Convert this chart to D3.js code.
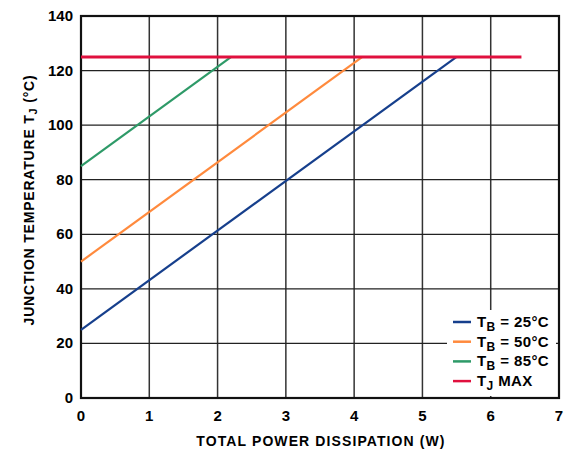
<!DOCTYPE html>
<html>
<head>
<meta charset="utf-8">
<script src="https://cdnjs.cloudflare.com/ajax/libs/d3/7.8.5/d3.min.js"></script>
<style>
    body { margin: 0; background: #fff; font-family: "Liberation Sans", Arial, Helvetica, sans-serif; }
    svg text { font-weight: bold; fill: #000; }
</style>
</head>
<body>
<svg width="579" height="454"></svg>
<script>
    // series: [power W, junction temp °C]
    var tb25 = [[0, 25], [5.5, 125]];
    var tb50 = [[0, 50], [4.12, 125]];
    var tb85 = [[0, 85], [2.2, 125]];
    var tjMax = [[0, 125], [6.45, 125]];

    var xTicks = [0, 1, 2, 3, 4, 5, 6, 7];
    var yTicks = [0, 20, 40, 60, 80, 100, 120, 140];
    var legendNames = ["25°C", "50°C", "85°C", "MAX"];

    var svg = d3.select("svg");
    var mLeft = 81, mRight = 559, mTop = 16, mBottom = 398;

    var x = d3.scaleLinear().domain([0, 7]).range([mLeft, mRight]);
    var y = d3.scaleLinear().domain([0, 140]).range([mBottom, mTop]);

    // grid
    var grid = svg.append("g");
    grid.selectAll(".vg").data(xTicks).enter().append("line")
        .attr("x1", d => x(d)).attr("x2", d => x(d))
        .attr("y1", mTop).attr("y2", mBottom)
        .attr("stroke", "#333").attr("stroke-width", 1.5);
    grid.selectAll(".hg").data(yTicks).enter().append("line")
        .attr("x1", mLeft).attr("x2", mRight)
        .attr("y1", d => y(d)).attr("y2", d => y(d))
        .attr("stroke", "#222").attr("stroke-width", 1.2);

    // frame
    svg.append("rect")
        .attr("x", mLeft).attr("y", mTop)
        .attr("width", mRight - mLeft).attr("height", mBottom - mTop)
        .attr("fill", "none").attr("stroke", "#111").attr("stroke-width", 2.2);

    // tick labels
    svg.selectAll(".xt").data(xTicks).enter().append("text")
        .attr("x", d => x(d)).attr("y", 421)
        .attr("text-anchor", "middle").attr("font-size", 15)
        .text(d => d);
    svg.selectAll(".yt").data(yTicks).enter().append("text")
        .attr("x", 73).attr("y", d => y(d) + 5)
        .attr("text-anchor", "end").attr("font-size", 15)
        .text(d => d);

    // lines
    var line = d3.line().x(d => x(d[0])).y(d => y(d[1]));
    var series = [
        { data: tb25, color: "#163f8c" },
        { data: tb50, color: "#ff8a3d" },
        { data: tb85, color: "#2e9a68" },
        { data: tjMax, color: "#e0103e" }
    ];
    svg.selectAll(".s").data(series).enter().append("path")
        .attr("d", d => line(d.data))
        .attr("fill", "none")
        .attr("stroke", d => d.color)
        .attr("stroke-width", d => d.data === tjMax ? 3 : 2.2);

    // legend
    var lg = svg.append("g");
    lg.append("rect")
        .attr("x", 447).attr("y", 310).attr("width", 109).attr("height", 86)
        .attr("fill", "#fff");
    var items = lg.selectAll(".li").data(series).enter().append("g")
        .attr("transform", (d, i) => "translate(453," + (322 + i * 19.7) + ")");
    items.append("line")
        .attr("x1", 0).attr("x2", 18).attr("y1", 0).attr("y2", 0)
        .attr("stroke", d => d.color).attr("stroke-width", 2.5);
    var txt = items.append("text")
        .attr("x", 24).attr("y", 5).attr("font-size", 15)
        .attr("letter-spacing", 0.4);
    txt.append("tspan").text("T");
    txt.append("tspan").attr("font-size", 12).attr("dy", 4)
        .text((d, i) => i < 3 ? "B" : "J");
    txt.append("tspan").attr("dy", -4)
        .text((d, i) => i < 3 ? " = " + legendNames[i] : " " + legendNames[i]);

    // axis titles
    svg.append("text")
        .attr("x", 321).attr("y", 446)
        .attr("text-anchor", "middle").attr("font-size", 14)
        .attr("letter-spacing", 1.1)
        .text("TOTAL POWER DISSIPATION (W)");

    var yt = svg.append("text")
        .attr("transform", "translate(34,200) rotate(-90)")
        .attr("text-anchor", "middle").attr("font-size", 14)
        .attr("letter-spacing", 0.8);
    yt.append("tspan").text("JUNCTION TEMPERATURE T");
    yt.append("tspan").attr("font-size", 11).attr("dy", 3).text("J");
    yt.append("tspan").attr("dy", -3).text(" (°C)");
</script>
</body>
</html>
